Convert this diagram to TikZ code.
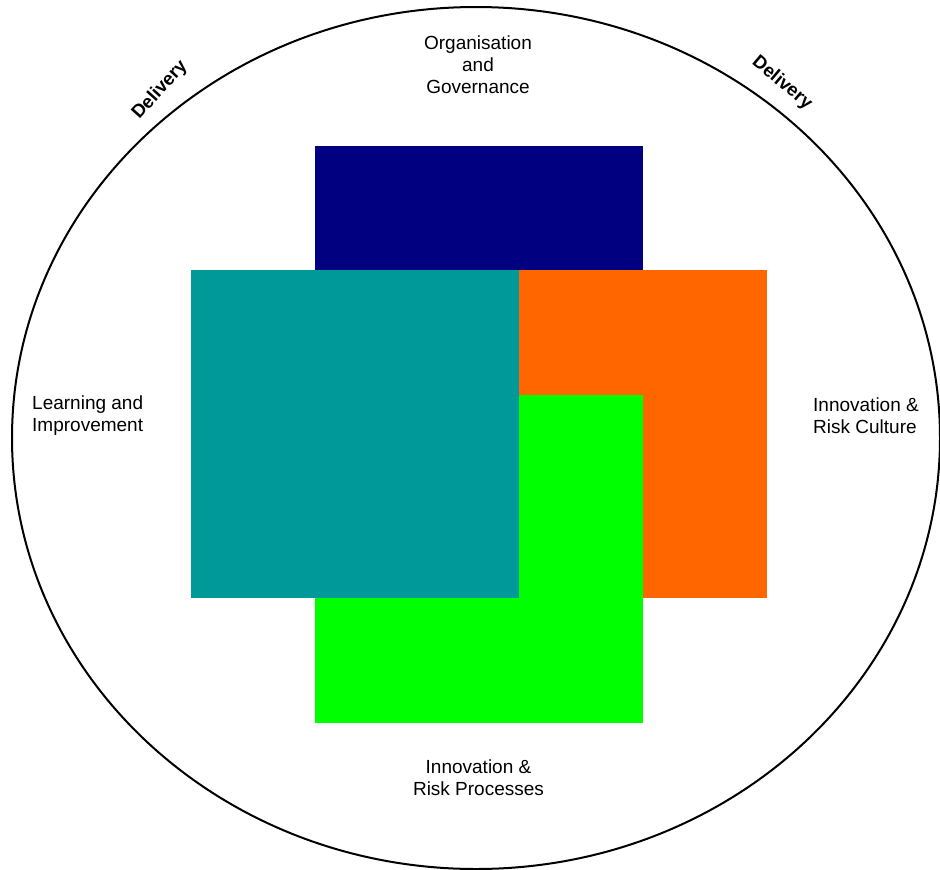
\documentclass[tikz,border=0pt]{standalone}
\usepackage{fontspec}
\setmainfont{Liberation Sans}
\usepackage{tikz}
\usetikzlibrary{shapes.geometric, positioning}
\usepackage{xcolor}
\definecolor{GovNavy}{HTML}{000080}
\definecolor{CultureOrange}{HTML}{FF6600}
\definecolor{ProcessGreen}{HTML}{00FF00}
\definecolor{LearnTeal}{HTML}{009999}
\tikzset{
    square/.style={rectangle, draw=none, inner sep=0pt, minimum width=328pt, minimum height=328pt},
    lbl/.style={font=\fontsize{19pt}{22pt}\selectfont, align=center, inner sep=0pt},
    lbl_l/.style={font=\fontsize{19pt}{22pt}\selectfont, align=left, inner sep=0pt},
    tag/.style={font=\fontsize{18.5pt}{22pt}\selectfont\bfseries, inner sep=0pt},
    ring/.style={ellipse, draw=black, line width=2pt, inner sep=0pt},
}

\begin{document}
\begin{tikzpicture}[x=1pt, y=-1pt]
\useasboundingbox (0,0) rectangle (940,870);
% outer ring
\node[ring, minimum width=928pt, minimum height=862pt] (frame) at (476,438) {};
% squares
\node[square, fill=GovNavy] (gov) at (479,310) {};
\node[square, fill=CultureOrange] (culture) at (603,434) {};
\node[square, fill=ProcessGreen] (process) at (479,558.5) {};
\node[square, fill=LearnTeal] (learn) at (355,434) {};

% labels
\node[lbl] (govtxt) at (478,65) {Organisation\\and\\Governance};
\node[lbl_l, anchor=west] (learntxt) at (32,416) {Learning and\\Improvement};
\node[lbl_l, anchor=west] (culturetxt) at (813,416) {Innovation \&\\Risk Culture};
\node[lbl] (processtxt) at (478.5,778) {Innovation \&\\Risk Processes};

% delivery
\node[tag, rotate=48] (delleft) at (160,90) {Delivery};
\node[tag, rotate=-40] (delright) at (782,83) {Delivery};

\end{tikzpicture}
\end{document}
